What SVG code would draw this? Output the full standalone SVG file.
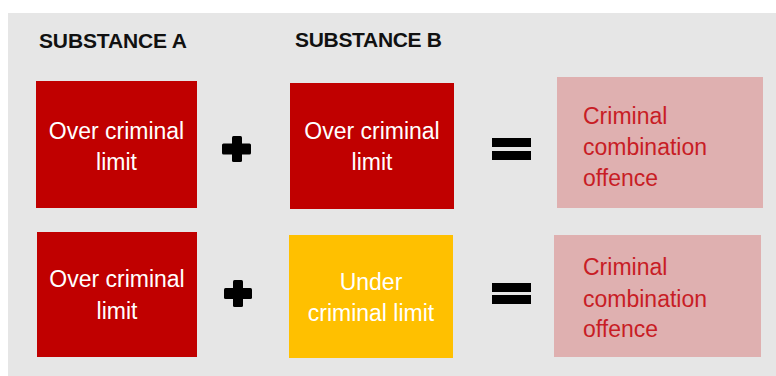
<svg xmlns="http://www.w3.org/2000/svg" width="776" height="376" viewBox="0 0 776 376">
<style>
.head{font-family:"Liberation Sans",Arial,sans-serif;font-weight:bold;font-size:21px;fill:#111111}
.lbl{font-family:"Liberation Sans",Arial,sans-serif;font-size:23px;fill:#ffffff;text-anchor:middle}
.res{font-family:"Liberation Sans",Arial,sans-serif;font-size:23px;fill:#c81d25}
.red{fill:#c00000}
.yel{fill:#ffc000}
.pink{fill:#dfb0b0}
.op{fill:#000000}
</style>
<rect x="0" y="0" width="776" height="376" fill="#ffffff"/>
<rect x="8" y="13" width="768" height="363" fill="#e6e6e6"/>
<g id="headers">
<text class="head" x="39" y="48" textLength="148">SUBSTANCE A</text>
<text class="head" x="295" y="47" textLength="147">SUBSTANCE B</text>
</g>
<g id="row1-a">
<rect class="red" x="36" y="81" width="161" height="127"/>
<text class="lbl" x="116.5" y="139">Over criminal</text>
<text class="lbl" x="116.5" y="170">limit</text>
</g>
<g id="row1-b">
<rect class="red" x="290" y="83" width="164" height="126"/>
<text class="lbl" x="372" y="139">Over criminal</text>
<text class="lbl" x="372" y="170">limit</text>
</g>
<g id="row1-result">
<rect class="pink" x="557" y="77" width="206" height="131"/>
<text class="res" x="583" y="124">Criminal</text>
<text class="res" x="583" y="155">combination</text>
<text class="res" x="583" y="186">offence</text>
</g>
<g id="row2-a">
<rect class="red" x="37" y="232" width="160" height="125"/>
<text class="lbl" x="117" y="287">Over criminal</text>
<text class="lbl" x="117" y="319">limit</text>
</g>
<g id="row2-b">
<rect class="yel" x="289" y="235" width="164" height="123"/>
<text class="lbl" x="371" y="290">Under</text>
<text class="lbl" x="371" y="321">criminal limit</text>
</g>
<g id="row2-result">
<rect class="pink" x="554" y="235" width="207" height="122"/>
<text class="res" x="583" y="275">Criminal</text>
<text class="res" x="583" y="307">combination</text>
<text class="res" x="583" y="337">offence</text>
</g>
<g id="operators">
<rect class="op" x="232" y="136" width="10" height="26" rx="1.5"/>
<rect class="op" x="222" y="143.5" width="29" height="11" rx="1.5"/>
<rect class="op" x="492" y="138" width="39" height="9"/>
<rect class="op" x="492" y="151" width="39" height="9"/>
<rect class="op" x="233" y="280" width="10" height="27" rx="1.5"/>
<rect class="op" x="224" y="288" width="28" height="11" rx="1.5"/>
<rect class="op" x="492" y="283" width="39" height="9"/>
<rect class="op" x="492" y="295" width="39" height="9"/>
</g>
</svg>
